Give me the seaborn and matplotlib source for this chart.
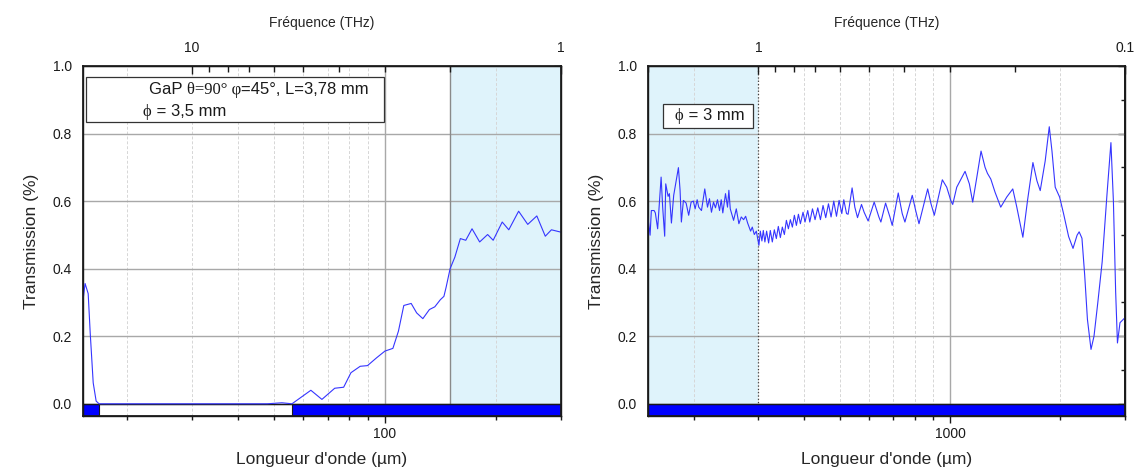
import numpy as np
import seaborn as sns
import matplotlib.pyplot as plt
from matplotlib.ticker import LogLocator, NullFormatter, FuncFormatter, MultipleLocator, FormatStrFormatter
from matplotlib.offsetbox import TextArea, HPacker, AnchoredOffsetbox
from matplotlib.patches import Rectangle

# speed of light in um*THz, for the frequency axis on top
C_UM_THZ = 300.0

# left panel : GaP crystal, wavelength (um) / transmission
left_wavelength = [15.2, 15.4, 15.7, 15.9, 16.2, 16.5, 16.8, 20, 30, 40, 48, 52.6, 56,
                   63.0, 67.5, 73.1, 77.3, 80.9, 85.7, 89.7, 94.9, 100, 105.1, 108.8,
                   112.5, 117.8, 121.9, 126.7, 132, 136.5, 141.3, 144.5, 146.5, 150.2,
                   154.7, 160.1, 165.6, 172.2, 180.6, 189.8, 196.5, 207.9, 216.6, 230.3,
                   243.8, 258, 272, 282.6, 300]
left_transmission = [0.306, 0.356, 0.326, 0.21, 0.062, 0.008, 0.0, 0.0, 0.0, 0.0, 0.0, 0.003, 0.0,
                     0.040, 0.013, 0.046, 0.049, 0.092, 0.111, 0.113, 0.136, 0.156, 0.164, 0.215,
                     0.291, 0.297, 0.269, 0.252, 0.279, 0.287, 0.308, 0.318, 0.345, 0.40,
                     0.434, 0.489, 0.484, 0.518, 0.479, 0.501, 0.484, 0.538, 0.515, 0.570,
                     0.531, 0.556, 0.496, 0.515, 0.508]
left_xlim = [15.2, 300]
left_band = [150, 300]
left_bars = [(15.2, 16.8), (56, 300)]

# right panel : phi = 3 mm
right_wavelength = [149.7, 152.0, 153.2, 155.9, 157.1, 159.4, 162.9, 164.5, 166.6, 167.7,
                    170.2, 171.6, 173.8, 176.3, 181.6, 183.5, 185.0, 187.4, 190.6, 193.7,
                    196.7, 199.5, 201.7, 204.3, 206.3, 209.9, 214.3, 218.0, 220.7, 223.5,
                    226.4, 229.2, 232.1, 235.1, 237.6, 240.0, 244.1, 247.2, 249.3, 251.5,
                    256.8, 261.2, 265.5, 269.5, 273.5, 277.0, 280.5, 285.8, 288.8, 292.5,
                    296.2, 299.2, 301.1, 303.8, 306.8, 309.5, 312.6, 316.0, 320.0, 323.4,
                    327.5, 331.7, 335.9, 340.1, 344.5, 348.8, 353.3, 357.8, 362.3, 366.9,
                    371.5, 376.2, 381.0, 385.9, 390.7, 397.2, 402.2, 409.1, 414.4, 421.5,
                    428.4, 435.7, 443.1, 450.4, 458.1, 466.0, 473.7, 481.8, 490.1, 498.2,
                    506.7, 513.1, 522.0, 527.2, 540.6, 549.9, 559.3, 573.5, 583.0, 597.9,
                    621.0, 639.6, 647.7, 667.1, 685.5, 695.5, 722.3, 740.6, 753.3, 788.8,
                    805.9, 822.9, 869.0, 887.3, 906.0, 952.8, 979.5, 1006, 1017, 1043,
                    1099, 1129, 1153, 1183, 1215, 1246, 1265, 1292, 1327, 1375,
                    1428, 1483, 1521, 1580, 1627, 1683, 1726, 1762, 1818, 1865,
                    1897, 1936, 1990, 2040, 2106, 2165, 2221, 2250, 2290, 2330,
                    2370, 2424, 2470, 2530, 2600, 2680, 2747, 2790, 2830, 2862,
                    2908, 2995]
right_transmission = [0.558, 0.499, 0.572, 0.572, 0.565, 0.518, 0.671, 0.582, 0.496, 0.651,
                      0.614, 0.622, 0.535, 0.617, 0.699, 0.632, 0.538, 0.602, 0.594, 0.558,
                      0.597, 0.600, 0.577, 0.604, 0.582, 0.572, 0.636, 0.582, 0.607, 0.567,
                      0.597, 0.580, 0.604, 0.572, 0.604, 0.565, 0.622, 0.582, 0.632, 0.577,
                      0.543, 0.577, 0.533, 0.553, 0.545, 0.555, 0.535, 0.511, 0.523, 0.501,
                      0.511, 0.486, 0.469, 0.511, 0.482, 0.513, 0.479, 0.511, 0.476, 0.513,
                      0.479, 0.515, 0.489, 0.525, 0.492, 0.523, 0.501, 0.543, 0.518, 0.545,
                      0.523, 0.558, 0.528, 0.561, 0.533, 0.567, 0.538, 0.572, 0.538, 0.577,
                      0.545, 0.580, 0.545, 0.587, 0.551, 0.592, 0.553, 0.600, 0.555, 0.602,
                      0.563, 0.604, 0.563, 0.561, 0.639, 0.582, 0.551, 0.590, 0.567, 0.541,
                      0.597, 0.553, 0.538, 0.594, 0.553, 0.528, 0.624, 0.563, 0.538, 0.617,
                      0.572, 0.533, 0.636, 0.592, 0.558, 0.663, 0.641, 0.600, 0.590, 0.641,
                      0.688, 0.651, 0.597, 0.670, 0.748, 0.700, 0.682, 0.665, 0.626, 0.582,
                      0.612, 0.636, 0.582, 0.493, 0.602, 0.714, 0.660, 0.631, 0.719, 0.820,
                      0.748, 0.641, 0.612, 0.563, 0.495, 0.460, 0.499, 0.509, 0.49, 0.38,
                      0.25, 0.161, 0.20, 0.30, 0.42, 0.62, 0.773, 0.60, 0.33, 0.18,
                      0.24, 0.254]
right_xlim = [150, 3000]
right_band = [150, 300]
right_bars = [(150, 3000)]

YMIN = -0.036
BAND_COLOR = '#dff3fb'
LINE_COLOR = '#3535ff'

sns.set_theme(style="white")
plt.rcParams['font.family'] = ['Liberation Sans', 'DejaVu Sans']

fig = plt.figure(figsize=(11.4, 4.7), dpi=100)
ax1 = fig.add_axes([0.0728, 0.115, 0.4193, 0.7447])
ax2 = fig.add_axes([0.5684, 0.115, 0.4184, 0.7447])


def fmt_g(v, pos):
    return f'{v:g}'


def draw_panel(ax, wl, tr, xlim, band, bars, edge_x, edge_style):
    ax.set_xscale('log')
    ax.set_xlim(xlim)
    ax.set_ylim(YMIN, 1.0)

    # shaded band + its edge
    ax.axvspan(band[0], band[1], color=BAND_COLOR, lw=0, zorder=0.1)
    ax.axvline(edge_x, **edge_style)

    sns.lineplot(x=wl, y=tr, ax=ax, color=LINE_COLOR, lw=0.8, estimator=None, zorder=4)

    # blue strip under the zero line
    for a, b in bars:
        ax.fill_between([a, b], YMIN, 0, color='#0000ff', ec='k', lw=0.8, zorder=3)
    ax.add_patch(Rectangle((xlim[0], YMIN), xlim[1] - xlim[0], -YMIN,
                           fill=False, ec='k', lw=1, zorder=3))

    ax.xaxis.set_major_locator(LogLocator(base=10, numticks=10))
    ax.xaxis.set_minor_locator(LogLocator(base=10, subs=np.arange(2, 10), numticks=10))
    ax.xaxis.set_major_formatter(FuncFormatter(fmt_g))
    ax.xaxis.set_minor_formatter(NullFormatter())
    ax.yaxis.set_major_locator(MultipleLocator(0.2))
    ax.yaxis.set_minor_locator(MultipleLocator(0.1))
    ax.yaxis.set_major_formatter(FormatStrFormatter('%.1f'))
    ax.tick_params(which='both', direction='out', top=False, right=False,
                   labelsize=10, color='k', labelcolor='k', width=1)
    ax.tick_params(which='major', length=5, pad=3)
    ax.tick_params(which='minor', length=3)

    ax.grid(which='major', axis='both', color='#a8a8a8', lw=1)
    ax.grid(which='minor', axis='x', color='#d6d6d6', ls=(0, (3, 2)), lw=0.7)
    ax.set_axisbelow(True)
    for s in ax.spines.values():
        s.set_color('k')
        s.set_linewidth(1)

    ax.set_xlabel("Longueur d'onde (µm)", fontsize=12.5, labelpad=8)
    ax.set_ylabel("Transmission (%)", fontsize=12.5, labelpad=10)

    # inward ticks on the right side
    sec = ax.secondary_yaxis('right')
    sec.yaxis.set_major_locator(MultipleLocator(0.2))
    sec.yaxis.set_minor_locator(MultipleLocator(0.1))
    sec.tick_params(which='both', direction='in', labelright=False, color='k', width=1)
    sec.tick_params(which='major', length=5)
    sec.tick_params(which='minor', length=3)
    sec.spines['right'].set_color('k')

    # frequency axis on top
    top = ax.twiny()
    top.set_xscale('log')
    top.set_xlim(C_UM_THZ / xlim[0], C_UM_THZ / xlim[1])
    top.xaxis.set_major_locator(LogLocator(base=10, numticks=10))
    top.xaxis.set_minor_locator(LogLocator(base=10, subs=np.arange(2, 10), numticks=10))
    top.xaxis.set_major_formatter(FuncFormatter(fmt_g))
    top.xaxis.set_minor_formatter(NullFormatter())
    top.tick_params(which='both', direction='in', labelsize=10, color='k', labelcolor='k', width=1)
    top.tick_params(which='major', length=6, pad=8)
    top.tick_params(which='minor', length=4)
    top.grid(False)
    top.set_xlabel('Fréquence (THz)', fontsize=10, labelpad=10)
    for s in top.spines.values():
        s.set_color('k')
    return top


draw_panel(ax1, left_wavelength, left_transmission, left_xlim, left_band, left_bars,
           150, dict(color='#8a8a8a', lw=1, zorder=0.6))
draw_panel(ax2, right_wavelength, right_transmission, right_xlim, right_band, right_bars,
           300, dict(color='#404040', lw=0.9, ls=':', zorder=0.6))

sans = dict(family=['Liberation Sans', 'DejaVu Sans'], size=12, color='k')
serif = dict(family=['Liberation Serif', 'DejaVu Serif'], size=12, color='k')


def put_text(ax, parts, xy):
    row = HPacker(children=[TextArea(t, textprops=p) for t, p in parts], pad=0, sep=0)
    box = AnchoredOffsetbox(loc='center left', child=row, pad=0, borderpad=0, frameon=False,
                            bbox_to_anchor=xy, bbox_transform=ax.transAxes)
    box.set_zorder(6)
    ax.add_artist(box)


# legend-like boxes
ax1.add_patch(Rectangle((0.006, 0.841), 0.624, 0.128, transform=ax1.transAxes,
                        fc='white', ec='#333333', lw=0.9, zorder=5))
put_text(ax1, [("GaP ", sans), ("θ=90° φ", serif), ("=45°, L=3,78 mm", sans)], (0.138, 0.932))
put_text(ax1, [("ϕ", serif), (" = 3,5 mm", sans)], (0.1255, 0.869))

ax2.add_patch(Rectangle((0.0325, 0.823), 0.1875, 0.069, transform=ax2.transAxes,
                        fc='white', ec='#333333', lw=0.9, zorder=5))
put_text(ax2, [("ϕ", serif), (" = 3 mm", sans)], (0.0566, 0.856))

fig.savefig('out.png', dpi=100)
